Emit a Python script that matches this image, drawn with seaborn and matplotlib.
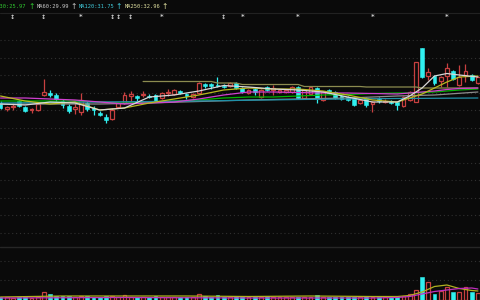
import numpy as np
import matplotlib
matplotlib.use('Agg')
import matplotlib.pyplot as plt
import seaborn as sns

BG = '#0a0a0a'
UP = '#c84040'
DOWN = '#30f0f0'
GRID = '#303030'

# ---------------- data ----------------
opens = [29.4, 28.2, 28.7, 29.8, 28.6, 28.0, 28.0, 31.0, 31.4, 31.0,
         29.8, 28.8, 28.2, 27.6, 29.4, 28.4, 27.4, 26.6, 26.2, 28.6,
         29.4, 30.8, 30.8, 31.0, 30.9, 31.0, 30.4, 31.5, 31.2, 31.8,
         31.1, 30.6, 31.4, 33.1, 33.1, 33.0, 32.9, 32.8, 33.4, 32.4,
         31.4, 32.2, 30.6, 32.6, 32.0, 31.6, 31.6, 31.6, 32.6, 30.4,
         31.2, 32.4, 30.0, 32.0, 31.6, 30.8, 30.6, 30.4, 29.4, 30.4,
         29.2, 30.1, 29.7, 29.7, 29.6, 28.8, 30.0, 29.6, 40.4, 34.8,
         34.8, 33.8, 34.8, 35.8, 33.0, 35.0, 35.0, 33.4]
highs = [29.8, 28.8, 29.4, 30.0, 28.8, 28.4, 29.4, 34.2, 32.0, 31.4,
         30.2, 29.2, 29.4, 31.4, 29.8, 28.8, 27.8, 27.2, 28.4, 29.6,
         31.6, 31.8, 31.0, 31.8, 31.2, 31.2, 31.6, 32.2, 32.2, 32.0,
         31.4, 31.4, 33.6, 33.4, 33.4, 34.6, 33.2, 33.6, 33.6, 32.6,
         32.2, 32.4, 32.2, 32.8, 33.0, 32.2, 32.2, 32.8, 32.8, 32.2,
         32.8, 32.6, 31.8, 32.2, 31.8, 31.0, 30.8, 30.6, 30.2, 30.6,
         29.8, 30.6, 30.2, 30.0, 29.8, 30.8, 31.8, 37.6, 40.4, 36.4,
         35.0, 34.8, 37.4, 36.0, 37.0, 37.2, 35.2, 34.8]
lows = [28.2, 27.8, 28.0, 28.6, 27.6, 27.4, 27.8, 30.8, 30.6, 29.8,
        28.4, 27.4, 27.2, 27.0, 27.8, 27.0, 26.8, 25.4, 26.0, 28.4,
        29.2, 29.4, 29.8, 30.6, 30.4, 29.6, 30.2, 30.8, 31.0, 31.2,
        30.2, 30.4, 31.2, 32.4, 32.2, 32.6, 32.4, 32.6, 32.2, 31.4,
        31.2, 31.0, 30.4, 31.8, 31.0, 31.4, 31.4, 31.4, 30.2, 30.2,
        31.0, 29.4, 29.8, 31.2, 30.2, 30.0, 29.8, 28.8, 29.2, 28.6,
        27.6, 29.4, 29.4, 29.2, 28.0, 28.6, 29.8, 29.6, 34.4, 34.0,
        33.0, 32.6, 32.6, 34.0, 32.8, 33.6, 33.8, 33.2]
closes = [28.4, 28.6, 28.9, 28.8, 27.8, 28.2, 29.2, 31.6, 31.0, 30.2,
          29.0, 27.8, 28.6, 30.0, 28.2, 28.0, 27.0, 26.0, 28.0, 29.4,
          31.0, 31.2, 30.4, 31.2, 30.7, 29.8, 31.4, 31.7, 32.0, 31.4,
          30.9, 31.2, 33.4, 32.8, 32.8, 32.8, 32.7, 33.4, 32.4, 31.6,
          32.0, 31.6, 32.0, 32.0, 32.4, 32.0, 32.0, 32.6, 30.4, 32.0,
          32.6, 30.4, 31.6, 31.4, 30.4, 30.2, 30.0, 29.0, 30.0, 29.0,
          29.6, 29.9, 29.9, 29.5, 29.0, 30.6, 31.6, 37.6, 34.6, 35.6,
          33.4, 34.6, 36.4, 34.2, 34.6, 35.8, 34.0, 34.6]
volumes = [3000, 3000, 2000, 3000, 3000, 2000, 3000, 8000, 6000, 4000,
           4000, 4000, 3000, 4000, 4000, 3000, 3000, 4000, 4000, 3000,
           5000, 3000, 3000, 3000, 3000, 4000, 3000, 3000, 3000, 3000,
           3000, 3000, 6000, 4000, 3000, 5000, 3000, 3000, 4000, 3000,
           3000, 3000, 3000, 4000, 3000, 3000, 3000, 3000, 3000, 3000,
           3000, 5000, 3000, 3000, 3000, 3000, 3000, 3000, 3000, 4000,
           3000, 3000, 3000, 4000, 3000, 4000, 6000, 10000, 23000, 18000,
           6000, 9000, 13000, 8000, 8000, 13000, 8000, 7000]

# moving-average lines, read at sampled bars
ma_idx = [0, 4, 8, 12, 16, 20, 24, 28, 32, 36, 40, 44, 48, 52, 56, 60,
          64, 66, 68, 70, 72, 74, 77]
ma5 = [29.2, 29.0, 29.6, 29.4, 28.0, 28.4, 30.6, 31.0, 31.8, 32.9, 32.6, 32.2,
       32.0, 31.6, 30.6, 29.6, 29.6, 30.8, 32.4, 34.8, 35.3, 35.0, 34.6]
ma10 = [30.8, 29.8, 29.2, 29.6, 28.0, 28.4, 29.4, 30.2, 31.0, 32.0, 32.4, 32.2,
        32.2, 31.8, 31.0, 30.0, 29.6, 30.4, 31.2, 32.4, 33.6, 34.6, 34.8]
ma20 = [30.4, 30.4, 30.2, 30.0, 29.6, 29.2, 29.4, 29.6, 30.2, 31.0, 31.6, 31.6,
        31.5, 31.4, 31.4, 31.3, 31.2, 31.4, 31.6, 31.8, 32.1, 32.3, 32.4]
ma30 = [29.8, 29.8, 29.8, 29.8, 29.6, 29.4, 29.6, 29.8, 30.0, 30.4, 30.6, 30.6,
        30.8, 31.0, 31.1, 31.3, 31.4, 31.4, 31.5, 31.6, 31.8, 32.0, 32.2]
ma60_idx = [0, 8, 16, 24, 32, 40, 48, 56, 64, 70, 77]
ma60 = [29.2, 29.2, 29.2, 29.4, 29.7, 30.0, 30.2, 30.4, 30.8, 31.0, 31.6]
ma120_idx = [0, 16, 32, 48, 64, 77]
ma120 = [29.4, 29.6, 29.8, 30.1, 30.3, 30.4]
ma250_idx = [23, 34, 35, 38, 39, 48, 49, 58, 59, 67, 68, 77]
ma250 = [33.7, 33.7, 33.4, 33.4, 33.1, 33.1, 32.7, 32.7, 32.6, 32.6, 32.4, 32.4]

vma_idx = [0, 10, 20, 30, 40, 50, 60, 64, 66, 68, 70, 72, 74, 76, 77]
vma5 = [3000, 4000, 4000, 4000, 3500, 4000, 3500, 3500, 4500, 8000, 13500,
        15000, 11500, 9500, 9000]
vma10_idx = [0, 20, 40, 60, 64, 66, 68, 70, 72, 74, 76, 77]
vma10 = [2000, 2500, 2000, 2000, 2500, 3500, 6000, 8500, 10000, 11500, 12000, 11000]

header_labels = ['MA30:25.97', 'MA60:29.99', 'MA120:31.75', 'MA250:32.96']
header_colors = ['#30c830', '#c8c8c8', '#40c8d8', '#e0e0a0']
marker_idx = [2, 7, 13, 18, 19, 21, 26, 36, 39, 48, 60, 72]
marker_sym = ['↕', '↕', '*', '↕', '↕', '↕', '*', '↕', '*', '*', '*', '*']

# ---------------- drawing ----------------
sns.set_theme(style='dark', rc={'axes.facecolor': BG, 'figure.facecolor': BG,
                                'savefig.facecolor': BG})
plt.rcParams['font.family'] = ['DejaVu Sans']

W, H = 480, 300
fig = plt.figure(figsize=(4.8, 3.0), dpi=100)
ax = fig.add_axes([0, 53 / H, 1, 234 / H])
axv = fig.add_axes([0, 0, 1, 53 / H])

n = len(opens)
x = np.arange(n)
o = np.array(opens); c = np.array(closes)
hi = np.array(highs); lo = np.array(lows)
vol = np.array(volumes)
up = c >= o
blo = np.minimum(o, c); bhi = np.maximum(o, c)
bh = np.maximum(bhi - blo, 0.06)
bw = 0.64

for a in (ax, axv):
    a.set_facecolor(BG)
    for s in a.spines.values():
        s.set_visible(False)
    a.tick_params(length=0, labelleft=False, labelbottom=False)
    a.set_xlim(-0.081, 77.34)
    a.grid(False)

# main grid
ax.set_yticks([3.5 * k for k in range(1, 13)])
ax.set_ylim(0.6, 47.4)
ax.grid(axis='y', color=GRID, linestyle=(0, (1, 2.5)), linewidth=0.8)
ax.set_xticks([])

# candles
ax.vlines(x[up], bhi[up], hi[up], color=UP, lw=0.9, zorder=3)
ax.vlines(x[up], lo[up], blo[up], color=UP, lw=0.9, zorder=3)
ax.bar(x[up], bh[up], bottom=blo[up], width=bw, facecolor=BG, edgecolor=UP,
       linewidth=0.9, zorder=3)
ax.vlines(x[~up], lo[~up], hi[~up], color=DOWN, lw=0.9, zorder=3)
ax.bar(x[~up], bh[~up], bottom=blo[~up], width=bw, color=DOWN, edgecolor=DOWN,
       linewidth=0.4, zorder=3)

# moving averages
lines = [(ma_idx, ma30, '#00b400'), (ma60_idx, ma60, '#8c8c8c'),
         (ma120_idx, ma120, '#2090a8'), (ma250_idx, ma250, '#8c8c50'),
         (ma_idx, ma20, '#d040d0'), (ma_idx, ma10, '#b8b820'),
         (ma_idx, ma5, '#d8d8d8')]
for xi, yi, col in lines:
    sns.lineplot(x=xi, y=yi, ax=ax, color=col, lw=0.9, zorder=4, legend=False)

# top markers
for i, s in zip(marker_idx, marker_sym):
    ax.text(i, 46.6, s, color='#d0d0d0', fontsize=5 if s == '*' else 4.5,
            ha='center', va='center', fontweight='bold', zorder=5)

# volume panel
axv.set_ylim(0, 53000)
axv.set_yticks([20000, 39500])
axv.grid(axis='y', color=GRID, linestyle=(0, (1, 2.5)), linewidth=0.8)
axv.set_xticks([])
axv.bar(x[up], vol[up], width=bw, facecolor=BG, edgecolor=UP, linewidth=0.9, zorder=3)
axv.bar(x[~up], vol[~up], width=bw, color=DOWN, edgecolor=DOWN, linewidth=0.4, zorder=3)
sns.lineplot(x=vma_idx, y=vma5, ax=axv, color='#b0b020', lw=0.9, zorder=4, legend=False)
sns.lineplot(x=vma10_idx, y=vma10, ax=axv, color='#c030c0', lw=0.9, zorder=4, legend=False)
for a in (ax, axv):
    a.set_xlabel(''); a.set_ylabel('')

# separators
fig.add_artist(plt.Line2D([0, 1], [53 / H, 53 / H], color='#262626', lw=1.0))
fig.add_artist(plt.Line2D([0, 1], [1 - 13 / H, 1 - 13 / H], color='#222222', lw=0.8))

# header
label_x = [-6, 37, 79, 125]
arrow_x = [32, 74, 119, 165]
for s, col, lx, axx in zip(header_labels, header_colors, label_x, arrow_x):
    fig.text(lx / W, 1 - 6.5 / H, s, color=col, fontsize=3.9,
             family='DejaVu Sans Mono', ha='left', va='center')
    fig.text(axx / W, 1 - 6.5 / H, '↑', color=col, fontsize=5.5,
             family='DejaVu Sans', ha='center', va='center')

fig.savefig('out.png', dpi=100, facecolor=BG)
